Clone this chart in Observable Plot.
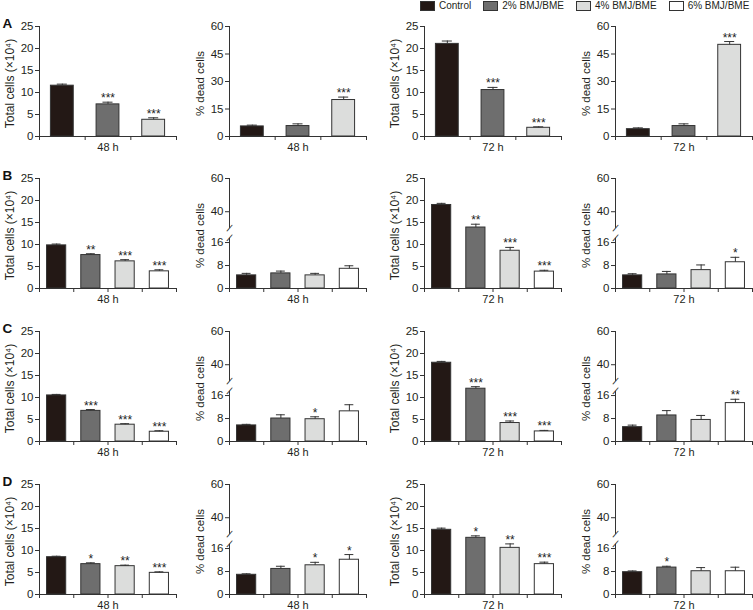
<!DOCTYPE html>
<html><head><meta charset="utf-8">
<script src="https://cdn.jsdelivr.net/npm/d3@7"></script>
<script src="https://cdn.jsdelivr.net/npm/@observablehq/plot@0.6"></script>
<style>
body{margin:0;background:#fff;}
#chart{position:relative;width:753px;height:610px;overflow:hidden;font-family:"Liberation Sans",Arial,sans-serif;color:#231f20;}
.panel{position:absolute;}
#legend{position:absolute;left:420px;top:0;height:11px;display:flex;align-items:center;gap:12px;font-size:10px;line-height:11px;white-space:nowrap;}
#legend .item{display:flex;align-items:center;gap:4px;}
#legend .sw{width:13px;height:8px;border:1px solid #333;}
</style></head><body>
<div id="chart"><div id="legend"></div></div>
<script>
// ---- categories & labels ----
const groups = ["Control", "2% BMJ/BME", "4% BMJ/BME", "6% BMJ/BME"];
const groupFills = ["#231815", "#6e6e6e", "#dcdddc", "#ffffff"];
const rowLabels = ["A", "B", "C", "D"];
const timeLabels = ["48 h", "72 h"];
const totalLabel = "Total cells (×10⁴)";
const deadLabel = "% dead cells";
const totalTicks = [0, 5, 10, 15, 20, 25];
const deadTicksFull = [0, 15, 30, 45, 60];
const deadTicksBroken = [0, 8, 16, 40, 60];
const deadBreak = [17.5, 30];

// ---- Row A ----
const totalA48 = [11.55, 7.3, 3.8];       const totalA48Err = [0.35, 0.5, 0.45];   const totalA48Sig = ["", "***", "***"];
const deadA48 = [5.5, 5.7, 19.9];          const deadA48Err = [0.7, 1.2, 1.6];      const deadA48Sig = ["", "", "***"];
const totalA72 = [21.05, 10.56, 1.98];     const totalA72Err = [0.65, 0.6, 0.22];   const totalA72Sig = ["", "***", "***"];
const deadA72 = [4.0, 5.7, 50.0];          const deadA72Err = [0.7, 1.2, 1.8];      const deadA72Sig = ["", "", "***"];
// ---- Row B ----
const totalB48 = [9.8, 7.6, 6.17, 3.9];    const totalB48Err = [0.3, 0.3, 0.38, 0.35]; const totalB48Sig = ["", "**", "***", "***"];
const deadB48 = [4.57, 5.26, 4.57, 6.86];  const deadB48Err = [0.7, 0.8, 0.7, 1.05];   const deadB48Sig = ["", "", "", ""];
const totalB72 = [18.98, 13.86, 8.58, 3.84]; const totalB72Err = [0.37, 0.75, 0.76, 0.3]; const totalB72Sig = ["", "**", "***", "***"];
const deadB72 = [4.57, 4.9, 6.4, 9.14];    const deadB72Err = [0.57, 1.04, 1.8, 1.72]; const deadB72Sig = ["", "", "", "*"];
// ---- Row C ----
const totalC48 = [10.47, 6.96, 3.82, 2.22]; const totalC48Err = [0.23, 0.3, 0.23, 0.23]; const totalC48Sig = ["", "***", "***", "***"];
const deadC48 = [5.6, 8.0, 7.76, 10.5];    const deadC48Err = [0.37, 1.3, 0.84, 2.3];  const deadC48Sig = ["", "", "*", ""];
const totalC72 = [17.9, 12.0, 4.2, 2.29];  const totalC72Err = [0.3, 0.46, 0.46, 0.23]; const totalC72Sig = ["", "***", "***", "***"];
const deadC72 = [5.0, 9.07, 7.5, 13.37];   const deadC72Err = [0.7, 1.68, 1.57, 1.33]; const deadC72Sig = ["", "", "", "**"];
// ---- Row D ----
const totalD48 = [8.48, 6.9, 6.44, 4.92];  const totalD48Err = [0.22, 0.3, 0.23, 0.23]; const totalD48Sig = ["", "*", "**", "***"];
const deadD48 = [6.86, 8.9, 10.17, 12.1];  const deadD48Err = [0.34, 0.93, 1.03, 1.8]; const deadD48Sig = ["", "", "*", "*"];
const totalD72 = [14.7, 12.88, 10.6, 6.9]; const totalD72Err = [0.38, 0.45, 0.9, 0.45]; const totalD72Sig = ["", "*", "**", "***"];
const deadD72 = [7.77, 9.37, 8.1, 8.1];    const deadD72Err = [0.43, 0.46, 1.27, 1.4]; const deadD72Sig = ["", "*", "", ""];

const panels = [
  {row:0,col:0,time:0,kind:"total",mean:totalA48,err:totalA48Err,sig:totalA48Sig},
  {row:0,col:1,time:0,kind:"dead", mean:deadA48, err:deadA48Err, sig:deadA48Sig},
  {row:0,col:2,time:1,kind:"total",mean:totalA72,err:totalA72Err,sig:totalA72Sig},
  {row:0,col:3,time:1,kind:"dead", mean:deadA72, err:deadA72Err, sig:deadA72Sig},
  {row:1,col:0,time:0,kind:"total",mean:totalB48,err:totalB48Err,sig:totalB48Sig},
  {row:1,col:1,time:0,kind:"dead", mean:deadB48, err:deadB48Err, sig:deadB48Sig},
  {row:1,col:2,time:1,kind:"total",mean:totalB72,err:totalB72Err,sig:totalB72Sig},
  {row:1,col:3,time:1,kind:"dead", mean:deadB72, err:deadB72Err, sig:deadB72Sig},
  {row:2,col:0,time:0,kind:"total",mean:totalC48,err:totalC48Err,sig:totalC48Sig},
  {row:2,col:1,time:0,kind:"dead", mean:deadC48, err:deadC48Err, sig:deadC48Sig},
  {row:2,col:2,time:1,kind:"total",mean:totalC72,err:totalC72Err,sig:totalC72Sig},
  {row:2,col:3,time:1,kind:"dead", mean:deadC72, err:deadC72Err, sig:deadC72Sig},
  {row:3,col:0,time:0,kind:"total",mean:totalD48,err:totalD48Err,sig:totalD48Sig},
  {row:3,col:1,time:0,kind:"dead", mean:deadD48, err:deadD48Err, sig:deadD48Sig},
  {row:3,col:2,time:1,kind:"total",mean:totalD72,err:totalD72Err,sig:totalD72Sig},
  {row:3,col:3,time:1,kind:"dead", mean:deadD72, err:deadD72Err, sig:deadD72Sig}
];

// ---- layout ----
const colLeft = [0, 190, 385, 576];
const rowTop = [14, 166, 319, 472];
const ML = 39, MR = 1, MT = 12, MB = 18, PW = 137, PH = 110;
const ink = "#231f20";

// broken-axis mapping (value -> fraction of plot height) for the "% dead cells" panels of rows B–D
const brokenDomain = [0, deadBreak[0], deadBreak[1], 60];
const brokenFrac = [0, 0.457, 0.547, 1];
const brokenMap = d3.scaleLinear().domain(brokenDomain).range(brokenFrac);

const chart = document.getElementById("chart");

// legend
const legend = d3.select("#legend");
groups.forEach((g, i) => {
  const it = legend.append("div").attr("class", "item");
  it.append("div").attr("class", "sw").style("background", groupFills[i]);
  it.append("span").text(g);
});

function makePanel(p) {
  const n = p.mean.length;
  const data = p.mean.map((v, i) => ({i, v, e: p.err[i], s: p.sig[i]}));
  const frac = n === 3 ? 0.5 : 0.56;
  const cap = n === 3 ? 0.11 : 0.13;
  const broken = p.kind === "dead" && p.row > 0;
  const f = broken ? brokenMap : (v => v);
  let y, ticks, tickFormat;
  if (p.kind === "total") { y = {domain: [0, 25]}; ticks = totalTicks; tickFormat = d => d; }
  else if (!broken) { y = {domain: [0, 60]}; ticks = deadTicksFull; tickFormat = d => d; }
  else {
    y = {domain: [0, 1]};
    ticks = deadTicksBroken.map(brokenMap);
    tickFormat = t => String(Math.round(brokenMap.invert(t)));
  }
  const marks = [
    Plot.rect(data, {x1: d => d.i + 0.5 - frac / 2, x2: d => d.i + 0.5 + frac / 2, y1: () => f(0), y2: d => f(d.v),
      fill: d => groupFills[d.i], stroke: "#333", strokeWidth: 1}),
    Plot.ruleX(data, {x: d => d.i + 0.5, y1: d => f(d.v), y2: d => f(d.v + d.e), stroke: "#333", strokeWidth: 1}),
    Plot.ruleY(data, {y: d => f(d.v + d.e), x1: d => d.i + 0.5 - cap, x2: d => d.i + 0.5 + cap, stroke: "#333", strokeWidth: 1}),
    Plot.text(data.filter(d => d.s), {x: d => d.i + 0.5, y: d => f(d.v + d.e), text: "s", dy: 0, lineAnchor: "bottom", fontSize: 12, fill: "#222"}),
    Plot.ruleY([0], {x1: 0, x2: n, stroke: "#333"}),
    Plot.axisX({ticks: d3.range(n + 1), tickFormat: () => "", tickSize: 4, label: null, stroke: "#333"}),
    Plot.axisY({ticks, tickFormat, tickSize: 4, tickPadding: 2, fontSize: 11.5, label: null, stroke: "#333", fill: ink}),
    Plot.text([p.kind === "total" ? totalLabel : deadLabel], {frameAnchor: "left", dx: -29, dy: 2, rotate: -90,
      textAnchor: "middle", lineAnchor: "middle", fontSize: p.kind === "total" ? 12 : 11.5, fill: ink}),
    Plot.text([timeLabels[p.time]], {frameAnchor: "bottom", dy: 11, lineAnchor: "middle", textAnchor: "middle", fontSize: 11, fill: ink})
  ];
  if (broken) {
    marks.push(Plot.ruleX([[0, deadBreak[0]], [deadBreak[1], 60]], {x: 0, y1: d => f(d[0]), y2: d => f(d[1]), stroke: "#333"}));
    marks.push(Plot.text(deadBreak, {x: 0, y: d => f(d), text: () => "/", fontSize: 11, rotate: 25, fill: "#333"}));
  } else {
    marks.push(Plot.ruleX([0], {stroke: "#333"}));
  }
  if (p.col === 0) {
    marks.push(Plot.text([rowLabels[p.row]], {frameAnchor: "top-left", dx: -37, dy: 1, textAnchor: "start", lineAnchor: "bottom",
      fontWeight: "bold", fontSize: 13.5, fill: "#111"}));
  }
  const svg = Plot.plot({
    width: ML + PW + MR, height: MT + PH + MB,
    marginLeft: ML, marginRight: MR, marginTop: MT, marginBottom: MB,
    x: {domain: [0, n]},
    y,
    style: {background: "transparent", overflow: "visible", fontFamily: '"Liberation Sans", Arial, sans-serif', color: ink},
    marks
  });
  const wrap = document.createElement("div");
  wrap.className = "panel";
  wrap.style.left = colLeft[p.col] + "px";
  wrap.style.top = rowTop[p.row] + "px";
  wrap.appendChild(svg);
  chart.appendChild(wrap);
}

panels.forEach(makePanel);
</script>
</body></html>
